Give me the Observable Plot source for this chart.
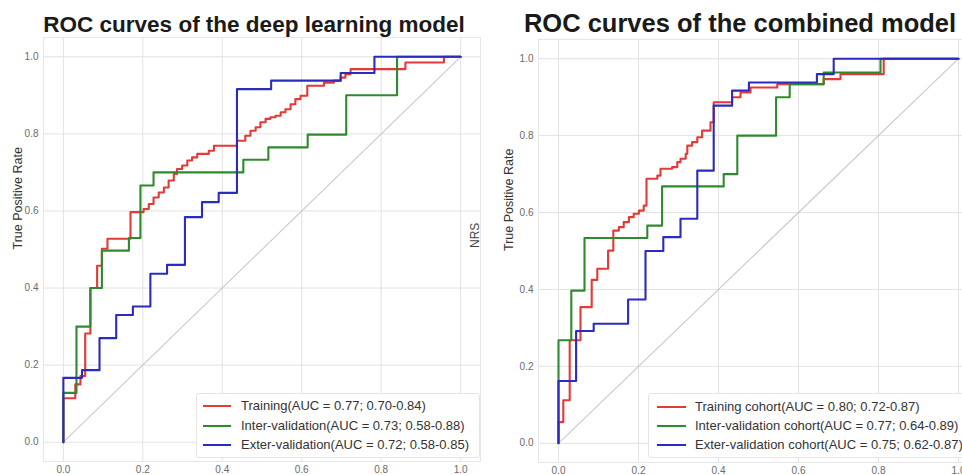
<!DOCTYPE html>
<html>
<head>
<meta charset="utf-8">
<script src="https://cdn.jsdelivr.net/npm/d3@7"></script>
<script src="https://cdn.jsdelivr.net/npm/@observablehq/plot@0.6"></script>
<style>
  html, body { margin: 0; padding: 0; background: #fff; }
  #root { position: relative; width: 962px; height: 475px; overflow: hidden; font-family: "Liberation Sans", Arial, sans-serif; }
  .title { position: absolute; top: 12px; line-height: 26px; font-size: 22.5px; font-weight: bold; color: #1a1a1a; text-align: center; white-space: nowrap; }
  .panel { position: absolute; top: 30px; }
  .panel svg { max-width: none !important; }
  .legend { position: absolute; background: #fff; border: 1px solid #e4e4e4; border-radius: 3px; }
  .row { position: absolute; left: 0; height: 18px; font-size: 13px; color: #333; white-space: nowrap; }
  .row .sw { position: absolute; top: 8px; height: 2px; }
  .row .tx { position: absolute; top: 0; line-height: 18px; }
</style>
</head>
<body>
<div id="root"></div>
<script>
// ---------- data ----------
const ticks = [0, 0.2, 0.4, 0.6, 0.8, 1.0];
const titles = ["ROC curves of the deep learning model", "ROC curves of the combined model"];
const yLabel = "True Positive Rate";
const strayLabel = "NRS";
const colors = ["#e23a36", "#2f8a2f", "#2b2bbf"];
const diagFpr = [0, 1];
const diagTpr = [0, 1];

const dlLabels = [
  "Training(AUC = 0.77; 0.70-0.84)",
  "Inter-validation(AUC = 0.73; 0.58-0.88)",
  "Exter-validation(AUC = 0.72; 0.58-0.85)"
];
const cmLabels = [
  "Training cohort(AUC = 0.80; 0.72-0.87)",
  "Inter-validation cohort(AUC = 0.77; 0.64-0.89)",
  "Exter-validation cohort(AUC = 0.75; 0.62-0.87)"
];

// deep learning model (fpr at end of each horizontal step, tpr level of that step)
const dlTrainFpr = [0, 0.03, 0.043, 0.055, 0.068, 0.085, 0.097, 0.111, 0.169, 0.202, 0.215, 0.227, 0.24, 0.253, 0.265, 0.278, 0.286, 0.299, 0.312, 0.324, 0.337, 0.366, 0.379, 0.437, 0.458, 0.471, 0.484, 0.496, 0.509, 0.521, 0.534, 0.547, 0.559, 0.572, 0.584, 0.597, 0.614, 0.656, 0.681, 0.698, 0.71, 0.723, 0.861, 0.958, 1.0];
const dlTrainTpr = [0, 0.114, 0.15, 0.172, 0.282, 0.40, 0.458, 0.502, 0.528, 0.597, 0.605, 0.618, 0.635, 0.648, 0.661, 0.679, 0.696, 0.709, 0.718, 0.731, 0.739, 0.748, 0.756, 0.769, 0.782, 0.795, 0.808, 0.817, 0.83, 0.839, 0.843, 0.847, 0.856, 0.864, 0.877, 0.89, 0.899, 0.925, 0.933, 0.938, 0.946, 0.955, 0.968, 0.985, 1.0];
const dlInterFpr = [0, 0.033, 0.068, 0.097, 0.165, 0.194, 0.227, 0.453, 0.516, 0.615, 0.712, 0.84, 1.0];
const dlInterTpr = [0, 0.128, 0.30, 0.40, 0.497, 0.53, 0.666, 0.70, 0.733, 0.765, 0.798, 0.90, 1.0];
const dlExterFpr = [0, 0.047, 0.091, 0.133, 0.175, 0.219, 0.261, 0.306, 0.349, 0.391, 0.437, 0.523, 0.698, 0.783, 1.0];
const dlExterTpr = [0, 0.167, 0.187, 0.27, 0.33, 0.352, 0.437, 0.46, 0.584, 0.623, 0.647, 0.916, 0.938, 0.958, 1.0];

// combined model
const cmTrainFpr = [0, 0.012, 0.028, 0.055, 0.083, 0.097, 0.124, 0.137, 0.151, 0.163, 0.176, 0.188, 0.201, 0.213, 0.22, 0.247, 0.255, 0.284, 0.297, 0.305, 0.318, 0.322, 0.334, 0.347, 0.359, 0.38, 0.388, 0.434, 0.455, 0.48, 0.547, 0.663, 0.705, 0.813, 1.0];
const cmTrainTpr = [0, 0.055, 0.112, 0.268, 0.354, 0.425, 0.454, 0.501, 0.553, 0.562, 0.575, 0.588, 0.597, 0.605, 0.618, 0.688, 0.696, 0.714, 0.718, 0.731, 0.74, 0.753, 0.774, 0.783, 0.796, 0.813, 0.835, 0.887, 0.90, 0.912, 0.925, 0.934, 0.947, 0.96, 1.0];
const cmInterFpr = [0, 0.032, 0.065, 0.222, 0.259, 0.413, 0.447, 0.544, 0.578, 0.663, 0.805, 1.0];
const cmInterTpr = [0, 0.268, 0.397, 0.534, 0.566, 0.668, 0.70, 0.80, 0.90, 0.934, 0.964, 1.0];
const cmExterFpr = [0, 0.044, 0.088, 0.174, 0.2175, 0.262, 0.305, 0.347, 0.388, 0.434, 0.476, 0.646, 0.688, 1.0];
const cmExterTpr = [0, 0.162, 0.292, 0.311, 0.374, 0.50, 0.536, 0.584, 0.709, 0.878, 0.917, 0.938, 0.96, 1.0];

// ---------- helpers ----------
const zip = (fpr, tpr, s) => fpr.map((f, i) => ({fpr: f, tpr: tpr[i], s}));
const fmt = d3.format(".1f");
const FONT = "'Liberation Sans', Arial, sans-serif";

function rocPlot({width, height, mL, mR, mT, mB, series, extraLabels}) {
  const data = series.flatMap(d => zip(d.fpr, d.tpr, d.name));
  const diag = zip(diagFpr, diagTpr, "diag");
  return Plot.plot({
    width, height,
    marginLeft: mL, marginRight: mR, marginTop: mT, marginBottom: mB,
    style: {background: "transparent", fontFamily: FONT, fontSize: "10px", color: "#6a6a6a", overflow: "visible", maxWidth: "none"},
    x: {domain: [-0.05, 1.05], ticks, tickFormat: fmt, tickSize: 0, tickPadding: 4, label: null},
    y: {domain: [-0.05, 1.05], ticks, tickFormat: fmt, tickSize: 0, tickPadding: 5, label: null},
    color: {domain: series.map(d => d.name), range: colors},
    marks: [
      Plot.ruleX(ticks, {stroke: "#e2e2e2", strokeWidth: 1}),
      Plot.ruleY(ticks, {stroke: "#e2e2e2", strokeWidth: 1}),
      Plot.frame({stroke: "#e6e6e6"}),
      Plot.line(diag, {x: "fpr", y: "tpr", stroke: "#c9c9c9", strokeWidth: 1.1}),
      Plot.line(data, {x: "fpr", y: "tpr", z: "s", stroke: "s", strokeWidth: 2.1, curve: "step-before"}),
      ...extraLabels.map(l => Plot.text([l.text], {text: d => d, frameAnchor: "left", dx: l.dx, dy: l.dy || 0, rotate: -90, fontSize: l.size, fill: l.fill, fontFamily: FONT}))
    ]
  });
}

const root = document.getElementById("root");

function addTitle(text, left, width, size, top) {
  const t = document.createElement("div");
  t.className = "title";
  t.style.left = left + "px";
  t.style.width = width + "px";
  t.style.fontSize = size + "px";
  t.style.top = top + "px";
  t.textContent = text;
  root.appendChild(t);
}

function addLegend(labels, box, swX, swW, txX, rowYs) {
  const lg = document.createElement("div");
  lg.className = "legend";
  Object.assign(lg.style, {left: box.x + "px", top: box.y + "px", width: box.w + "px", height: box.h + "px"});
  labels.forEach((lab, i) => {
    const r = document.createElement("div");
    r.className = "row";
    r.style.top = (rowYs[i] - box.y - 9) + "px";
    r.style.width = box.w + 60 + "px";
    const sw = document.createElement("div");
    sw.className = "sw";
    Object.assign(sw.style, {left: (swX - box.x) + "px", width: swW + "px", background: colors[i]});
    const tx = document.createElement("div");
    tx.className = "tx";
    tx.style.left = (txX - box.x) + "px";
    tx.textContent = lab;
    r.appendChild(sw); r.appendChild(tx);
    lg.appendChild(r);
  });
  root.appendChild(lg);
}

// ---------- left panel ----------
const leftSvg = rocPlot({
  width: 481, height: 445, mL: 43, mR: 1, mT: 7, mB: 14,
  series: [
    {name: dlLabels[0], fpr: dlTrainFpr, tpr: dlTrainTpr},
    {name: dlLabels[1], fpr: dlInterFpr, tpr: dlInterTpr},
    {name: dlLabels[2], fpr: dlExterFpr, tpr: dlExterTpr}
  ],
  extraLabels: [{text: yLabel, dx: -26, size: 12.5, fill: "#333"}]
});
const lp = document.createElement("div");
lp.className = "panel"; lp.style.left = "0px"; lp.style.width = "481px";
lp.appendChild(leftSvg);
root.appendChild(lp);

// ---------- right panel ----------
const rightSvg = rocPlot({
  width: 514, height: 445, mL: 73, mR: 1, mT: 9, mB: 13,
  series: [
    {name: cmLabels[0], fpr: cmTrainFpr, tpr: cmTrainTpr},
    {name: cmLabels[1], fpr: cmInterFpr, tpr: cmInterTpr},
    {name: cmLabels[2], fpr: cmExterFpr, tpr: cmExterTpr}
  ],
  extraLabels: [
    {text: yLabel, dx: -30, size: 12.5, fill: "#333"},
    {text: strayLabel, dx: -63, dy: -3, size: 12, fill: "#444"}
  ]
});
const rp = document.createElement("div");
rp.className = "panel"; rp.style.left = "465px"; rp.style.width = "514px";
rp.appendChild(rightSvg);
root.appendChild(rp);

// ---------- titles & legends ----------
addTitle(titles[0], 0, 508, 22.5, 12);
addTitle(titles[1], 490, 500, 25.5, 10);
addLegend(dlLabels, {x: 196, y: 393, w: 282, h: 63}, 202, 28, 240, [405, 424.5, 444]);
addLegend(cmLabels, {x: 648, y: 393, w: 330, h: 63}, 656, 29, 694, [406, 425, 444]);
</script>
</body>
</html>
